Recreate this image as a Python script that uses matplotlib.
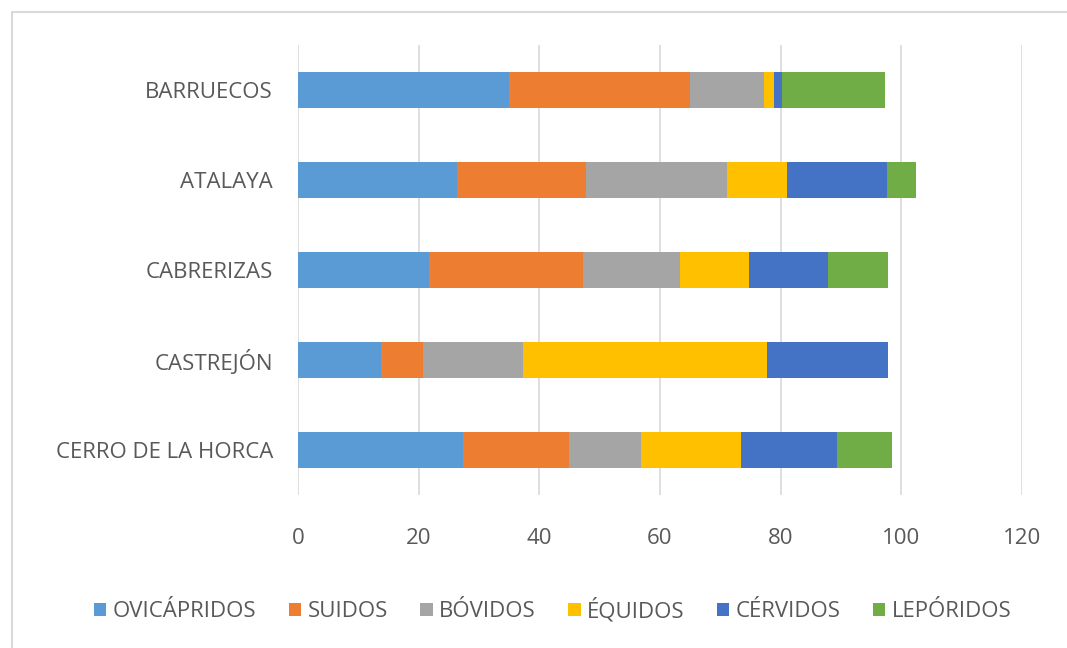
import numpy as np
from matplotlib import pyplot as plt
from matplotlib.patches import Rectangle

sites = ["CERRO DE LA HORCA", "CASTREJÓN", "CABRERIZAS", "ATALAYA", "BARRUECOS"]
groups = ["OVICÁPRIDOS", "SUIDOS", "BÓVIDOS", "ÉQUIDOS", "CÉRVIDOS", "LEPÓRIDOS"]
colors = ["#5B9BD5", "#ED7D31", "#A5A5A5", "#FFC000", "#4472C4", "#70AD47"]

# percentages per site (same order as sites)
ovicapridos = [27.4, 13.8, 21.7, 26.4, 35.0]
suidos = [17.5, 6.9, 25.6, 21.4, 30.0]
bovidos = [12.0, 16.6, 16.0, 23.3, 12.3]
equidos = [16.5, 40.5, 11.4, 9.9, 1.6]
cervidos = [16.0, 20.0, 13.2, 16.7, 1.3]
leporidos = [9.1, 0.0, 9.9, 4.8, 17.1]

series = [ovicapridos, suidos, bovidos, equidos, cervidos, leporidos]
xticks = [0, 20, 40, 60, 80, 100, 120]

plt.rcParams['font.family'] = ['Open Sans', 'DejaVu Sans']

fig = plt.figure(figsize=(10.67, 6.48), dpi=100)
fig.patches.append(Rectangle((12 / 1067, -0.1), 1.2, 1 - 12 / 648 + 0.1, transform=fig.transFigure,
                             facecolor='none', edgecolor='#D9D9D9', linewidth=1.5))
ax = fig.add_axes([0.2793, 0.2361, 0.6785, 0.6945])

y = np.arange(len(sites))
left = np.zeros(len(sites))
for name, vals, c in zip(groups, series, colors):
    ax.barh(y, vals, left=left, height=0.4, color=c, label=name, zorder=3)
    left += np.array(vals)

ax.set_xlim(0, 120)
ax.set_ylim(-0.5, len(sites) - 0.5)
ax.set_xticks(xticks)
ax.set_yticks(y)
ax.set_yticklabels(sites)
ax.grid(axis='x', color='#D9D9D9', linewidth=1.2, zorder=0)
for s in ax.spines.values():
    s.set_visible(False)
ax.tick_params(axis='both', length=0, colors='#595959', labelsize=16)
ax.tick_params(axis='x', pad=24)
ax.tick_params(axis='y', pad=18)

ax.legend(loc='center', bbox_to_anchor=(553 / 1067, 1 - 610 / 648), bbox_transform=fig.transFigure,
          ncol=6, frameon=False, fontsize=16, labelcolor='#595959', handlelength=0.55, handleheight=0.55,
          handletextpad=0.3, columnspacing=1.45)

fig.savefig('out.png', dpi=100)
